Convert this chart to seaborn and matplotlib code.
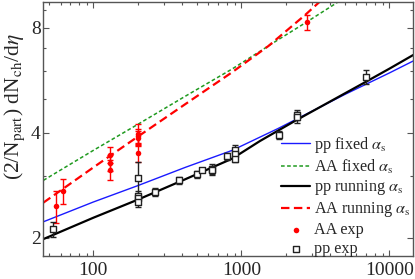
import numpy as np
import pandas as pd
import seaborn as sns
import matplotlib.pyplot as plt
from matplotlib.ticker import FixedLocator, FixedFormatter, NullFormatter

# curves (sqrt(s) in GeV, multiplicity)
pp_fixed_s = [46, 100, 200, 417, 867, 1783, 5035, 10000, 14500]
pp_fixed_y = [2.22, 2.53, 2.82, 3.18, 3.56, 4.12, 5.16, 5.94, 6.43]

aa_fixed_s = [46, 100, 200, 417, 867, 1800, 2700, 4400, 5035]
aa_fixed_y = [2.92, 3.56, 4.23, 5.09, 6.10, 7.43, 8.27, 9.44, 9.83]

pp_run_s = [46, 100, 200, 417, 867, 1340, 2312, 6873, 10000, 14500]
pp_run_y = [1.98, 2.28, 2.57, 2.94, 3.37, 3.79, 4.33, 5.59, 6.11, 6.69]

aa_run_s = [46, 100, 200, 417, 867, 1524, 2700, 3500]
aa_run_y = [2.52, 3.18, 3.90, 4.83, 5.97, 7.10, 8.72, 9.64]

# data points
aa_exp_s = [56, 62.4, 130, 130, 130, 200, 200, 200, 200, 2760]
aa_exp_y = [2.46, 2.72, 3.46, 3.28, 3.13, 3.98, 3.91, 3.86, 3.49, 8.30]
aa_exp_err = [0.26, 0.22, 0.18, 0.17, 0.2, 0.25, 0.2, 0.2, 0.2, 0.42]

pp_exp_s = [53, 200, 200, 200, 200, 260, 380, 500, 546, 630, 630, 800, 900, 900, 900, 1800, 2360, 2360, 7000]
pp_exp_y = [2.11, 2.97, 2.64, 2.59, 2.53, 2.70, 2.92, 3.04, 3.13, 3.15, 3.12, 3.42, 3.58, 3.47, 3.37, 3.94, 4.49, 4.43, 5.80]
pp_exp_err = [0.1, 0.32, 0.08, 0.08, 0.08, 0.07, 0.07, 0.07, 0.03, 0.1, 0.1, 0.07, 0.12, 0.1, 0.07, 0.1, 0.15, 0.15, 0.27]

x_major = [100, 1000, 10000]
x_labels = ['100', '1000', '10000']
y_major = [2, 4, 8]
y_labels = ['2', '4', '8']

sns.set_style('ticks')
plt.rcParams['font.family'] = ['Liberation Serif', 'DejaVu Serif']
plt.rcParams['mathtext.fontset'] = 'stix'

fig = plt.figure(figsize=(4.15, 2.79), dpi=100)
ax = fig.add_axes([0.1043, 0.0824, 0.8909, 0.9104])
ax.set_xscale('log')
ax.set_yscale('log')

sns.lineplot(x=pp_fixed_s, y=pp_fixed_y, ax=ax, color='#1a1aff', lw=1.0,
             label=r'pp fixed $\alpha_{\rm s}$')
sns.lineplot(x=aa_fixed_s, y=aa_fixed_y, ax=ax, color='#1f9a1f', lw=1.1,
             linestyle=(0, (2.4, 1.6)), label=r'AA fixed $\alpha_{\rm s}$')
sns.lineplot(x=pp_run_s, y=pp_run_y, ax=ax, color='black', lw=1.6,
             label=r'pp running $\alpha_{\rm s}$')
sns.lineplot(x=aa_run_s, y=aa_run_y, ax=ax, color='#ff0000', lw=1.6,
             linestyle=(0, (3.8, 2.0)), label=r'AA running $\alpha_{\rm s}$')

ax.errorbar(aa_exp_s, aa_exp_y, yerr=aa_exp_err, fmt='none', ecolor='#ff0000',
            elinewidth=1, capsize=2.5, capthick=1, zorder=3)
ax.errorbar(pp_exp_s, pp_exp_y, yerr=pp_exp_err, fmt='none', ecolor='#222222',
            elinewidth=1, capsize=2.5, capthick=1, zorder=3)
sns.scatterplot(x=aa_exp_s, y=aa_exp_y, ax=ax, color='#ff0000', marker='o', s=16,
                edgecolor='#ff0000', linewidth=0, zorder=4, label='AA exp')
sns.scatterplot(x=pp_exp_s, y=pp_exp_y, ax=ax, marker='s', s=22, facecolor='white',
                edgecolor='#222222', linewidth=1, zorder=4, label='pp exp')

ax.set_xlim(45.9, 14460)
ax.set_ylim(1.77, 9.5)

ax.xaxis.set_major_locator(FixedLocator(x_major))
ax.xaxis.set_major_formatter(FixedFormatter(x_labels))
ax.xaxis.set_minor_locator(FixedLocator([v * m for v in [10, 100, 1000] for m in range(2, 10)]))
ax.xaxis.set_minor_formatter(NullFormatter())
ax.yaxis.set_major_locator(FixedLocator(y_major))
ax.yaxis.set_major_formatter(FixedFormatter(y_labels))
ax.yaxis.set_minor_locator(FixedLocator([3, 5, 6, 7, 9]))
ax.yaxis.set_minor_formatter(NullFormatter())

ax.tick_params(which='both', direction='in', top=True, right=True, color='#555555',
               labelsize=14, width=0.8)
ax.tick_params(which='major', length=4.5)
ax.tick_params(which='minor', length=2.3)
ax.tick_params(axis='x', pad=4)
ax.tick_params(axis='y', pad=2)
for sp in ax.spines.values():
    sp.set_color('#555555')
    sp.set_linewidth(1.0)

ax.set_ylabel(r'(2/N$_{\rm part}$) dN$_{\rm ch}$/d$\eta$', fontsize=15.5)
ax.yaxis.set_label_coords(-0.045, 0.59)
ax.set_xlabel('')

ax.legend(loc='upper left', bbox_to_anchor=(0.643, 0.478), frameon=False, fontsize=11.6,
          handlelength=1.8, handletextpad=0.25, labelspacing=0.18, borderpad=0,
          borderaxespad=0)

fig.savefig('out.png', dpi=100)
